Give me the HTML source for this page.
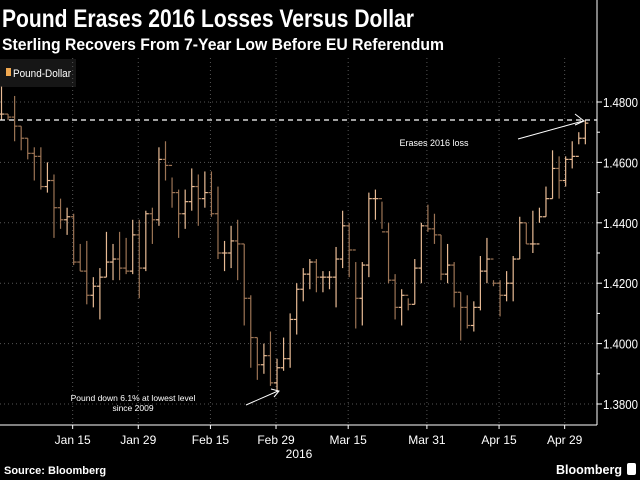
<!DOCTYPE html>
<html><head><meta charset="utf-8"><style>
html,body{margin:0;padding:0;background:#000;width:640px;height:480px;overflow:hidden}
svg{display:block;font-family:"Liberation Sans",sans-serif}
</style></head><body>
<svg id="chart" width="640" height="480" viewBox="0 0 640 480">
<rect x="0" y="0" width="640" height="480" fill="#000"/>
<text x="2" y="27" fill="#fff" font-size="25" font-weight="bold" textLength="412" lengthAdjust="spacingAndGlyphs">Pound Erases 2016 Losses Versus Dollar</text>
<text x="2" y="50" fill="#fff" font-size="17" font-weight="bold" textLength="442" lengthAdjust="spacingAndGlyphs">Sterling Recovers From 7-Year Low Before EU Referendum</text>
<g>
<rect x="0" y="59" width="76" height="28" fill="#161616"/>
<rect x="6" y="68" width="5" height="8" fill="#f0a850"/>
<text x="13" y="77" fill="#fff" font-size="11" textLength="58" lengthAdjust="spacingAndGlyphs">Pound-Dollar</text>
</g>
<g id="grid"></g>
<g id="bars"></g>
<g id="axes"></g>
<line x1="0" y1="120" x2="597" y2="120" stroke="#fff" stroke-width="1.2" stroke-dasharray="5,4"/>
<line x1="518" y1="139" x2="583" y2="121" stroke="#fff" stroke-width="1"/>
<polyline points="575,114 584,121 575,125" fill="none" stroke="#fff" stroke-width="1"/>
<text x="434" y="146" fill="#fff" font-size="9" text-anchor="middle">Erases 2016 loss</text>
<line x1="246" y1="405" x2="278" y2="391" stroke="#fff" stroke-width="1"/>
<polyline points="271,389 279,391 274,397" fill="none" stroke="#fff" stroke-width="1"/>
<text x="133" y="401" fill="#fff" font-size="8.5" text-anchor="middle">Pound down 6.1% at lowest level</text>
<text x="133" y="411" fill="#fff" font-size="8.5" text-anchor="middle">since 2009</text>
<text x="299" y="458" fill="#fff" font-size="12" text-anchor="middle">2016</text>
<text x="4" y="474" fill="#fff" font-size="11" font-weight="bold">Source: Bloomberg</text>
<text x="556" y="474" fill="#fff" font-size="13" font-weight="bold" textLength="66" lengthAdjust="spacingAndGlyphs">Bloomberg</text>
<rect x="627" y="463" width="9" height="12" rx="2" fill="#fff"/>
</svg>
<script>
const highs=[1.4851,1.476,1.482,1.472,1.468,1.465,1.465,1.460,1.456,1.448,1.445,1.443,1.433,1.434,1.422,1.425,1.437,1.433,1.437,1.435,1.441,1.441,1.444,1.445,1.465,1.467,1.455,1.451,1.451,1.458,1.456,1.457,1.457,1.452,1.434,1.439,1.441,1.433,1.416,1.402,1.400,1.404,1.395,1.402,1.410,1.420,1.425,1.428,1.428,1.424,1.424,1.432,1.444,1.440,1.427,1.427,1.450,1.451,1.447,1.440,1.423,1.418,1.415,1.428,1.440,1.446,1.443,1.436,1.433,1.427,1.417,1.416,1.414,1.429,1.435,1.421,1.421,1.424,1.429,1.442,1.440,1.444,1.445,1.452,1.464,1.462,1.462,1.467,1.470,1.474];
const lows=[1.474,1.474,1.467,1.464,1.461,1.454,1.451,1.450,1.435,1.438,1.436,1.426,1.424,1.413,1.412,1.408,1.422,1.421,1.421,1.423,1.423,1.415,1.424,1.433,1.439,1.454,1.445,1.435,1.438,1.444,1.439,1.445,1.442,1.428,1.424,1.425,1.421,1.406,1.392,1.388,1.390,1.386,1.384,1.391,1.392,1.403,1.414,1.418,1.417,1.417,1.418,1.412,1.425,1.422,1.405,1.406,1.422,1.441,1.438,1.420,1.408,1.406,1.411,1.413,1.420,1.437,1.433,1.421,1.420,1.412,1.401,1.405,1.404,1.411,1.420,1.419,1.409,1.414,1.414,1.428,1.433,1.430,1.440,1.442,1.448,1.448,1.452,1.458,1.466,1.466];
const closes=[1.476,1.475,1.472,1.468,1.463,1.462,1.452,1.454,1.445,1.441,1.442,1.427,1.424,1.416,1.419,1.422,1.427,1.428,1.425,1.424,1.436,1.425,1.443,1.441,1.461,1.459,1.450,1.443,1.447,1.452,1.448,1.450,1.443,1.430,1.430,1.434,1.433,1.415,1.402,1.393,1.396,1.387,1.392,1.395,1.408,1.418,1.423,1.427,1.422,1.422,1.422,1.428,1.439,1.431,1.415,1.426,1.448,1.448,1.437,1.421,1.412,1.416,1.413,1.425,1.439,1.438,1.436,1.423,1.426,1.417,1.412,1.406,1.412,1.424,1.428,1.420,1.416,1.420,1.428,1.440,1.433,1.433,1.442,1.448,1.458,1.454,1.461,1.462,1.468,1.473];
const yTicks=[1.38,1.40,1.42,1.44,1.46,1.48];
const xLabels=["Jan 15","Jan 29","Feb 15","Feb 29","Mar 15","Mar 31","Apr 15","Apr 29"];
const xLabelIdx=[11,21,32,42,53,65,76,86];
const NS="http://www.w3.org/2000/svg";
const plotRight=597, axisY=425;
function y(v){return 102+(1.48-v)/0.02*60.4;}
function x(i){return 1.5+i*6.56;}
function mk(tag,attrs,parent){const e=document.createElementNS(NS,tag);for(const k in attrs)e.setAttribute(k,attrs[k]);parent.appendChild(e);return e;}
const grid=document.getElementById('grid'),bars=document.getElementById('bars'),axes=document.getElementById('axes');
yTicks.forEach(v=>{
  const l=mk('line',{x1:0,x2:plotRight,y1:y(v),y2:y(v),stroke:'#555','stroke-width':1,'stroke-dasharray':'1,3'},grid);
  
  
  const t=mk('line',{x1:plotRight,x2:plotRight+5,y1:y(v),y2:y(v),stroke:'#fff'},axes);
  
  
  const tx=mk('text',{x:603,y:y(v)+5,fill:'#fff','font-size':13,textLength:35,lengthAdjust:'spacingAndGlyphs'},axes);
  tx.textContent=v.toFixed(4);
  
  
});
[1.39,1.41,1.43,1.45,1.47].forEach(v=>{
  const t=mk('line',{x1:plotRight,x2:plotRight+3,y1:y(v),y2:y(v),stroke:'#fff'},axes);
  
  
});
xLabelIdx.forEach((idx,k)=>{
  const gx=x(idx)-1;
  const g=mk('line',{x1:gx,x2:gx,y1:58,y2:axisY,stroke:'#555','stroke-dasharray':'1,3'},grid);
  
  
  const t=mk('line',{x1:gx,x2:gx,y1:axisY,y2:axisY+4,stroke:'#fff'},axes);
  
  
  const tx=mk('text',{x:gx,y:444,fill:'#fff','font-size':12,'text-anchor':'middle'},axes);
  tx.textContent=xLabels[k];
  
  
});
const al=mk('line',{x1:0,x2:plotRight,y1:axisY,y2:axisY,stroke:'#fff'},axes);


const yl=mk('line',{x1:plotRight,x2:plotRight,y1:0,y2:axisY,stroke:'#fff'},axes);


highs.forEach((h,i)=>{
  const o=i>0?closes[i-1]:closes[i];
  const c=closes[i];
  const col=c>=o?'#e8bb95':'#9c7455';
  const g=mk('g',{},bars);
  
  
  const cx=x(i);
  mk('line',{x1:cx,x2:cx,y1:y(h),y2:y(lows[i]),stroke:col,'stroke-width':1.2},g);
  mk('line',{x1:cx-3,x2:cx,y1:y(o),y2:y(o),stroke:col,'stroke-width':1.2},g);
  mk('line',{x1:cx,x2:cx+3,y1:y(c),y2:y(c),stroke:col,'stroke-width':1.2},g);
});
</script>
</body></html>
